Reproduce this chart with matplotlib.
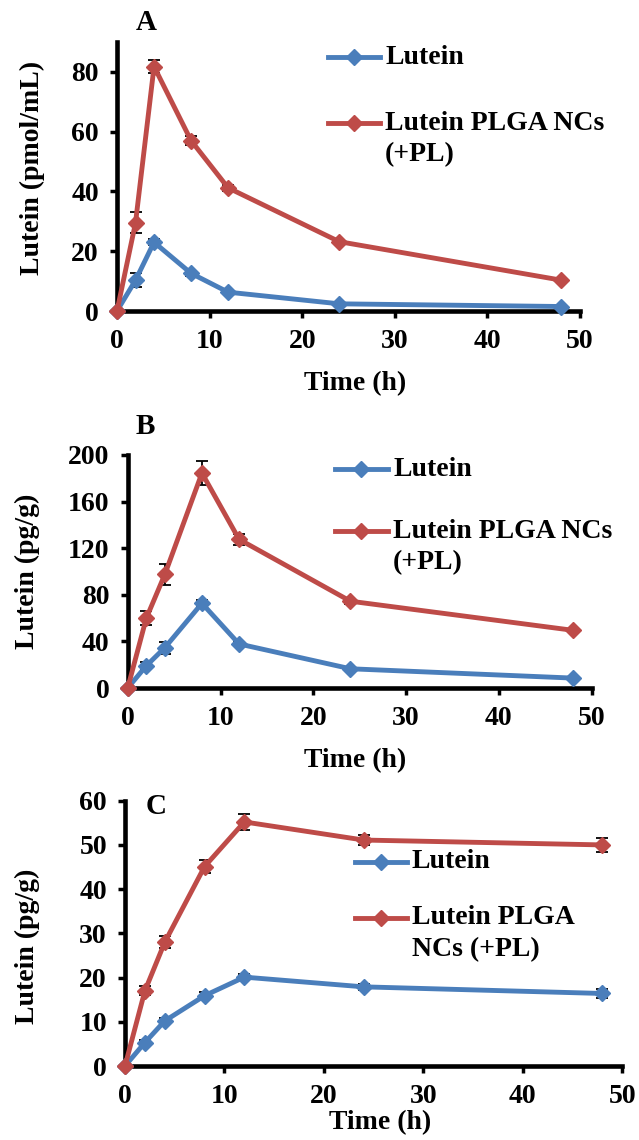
import matplotlib.pyplot as plt
from matplotlib.lines import Line2D

plt.rcParams['font.family'] = 'Liberation Serif'
plt.rcParams['font.weight'] = 'bold'
plt.rcParams['axes.labelweight'] = 'bold'
plt.rcParams['font.size'] = 20

# Sampling times (h)
time = [0, 2, 4, 8, 12, 24, 48]

# Panel A: plasma (pmol/mL)
a_lutein = [0, 10.3, 23, 12.6, 6.3, 2.4, 1.5]
a_lutein_err = [0, 2.3, 1.0, 0.8, 0.5, 0.3, 0.3]
a_nc = [0, 29.5, 81.8, 57, 41.2, 23.2, 10.3]
a_nc_err = [0, 3.5, 2.2, 1.6, 1.0, 0.6, 0.5]

# Panel B: tissue (pg/g)
b_lutein = [0, 19, 34.6, 72.7, 37.8, 16.5, 8.5]
b_lutein_err = [0, 3, 5, 3, 1.5, 1, 0.8]
b_nc = [0, 59.8, 97.5, 184.5, 127.6, 74.5, 49.5]
b_nc_err = [0, 6, 9, 10, 5, 2, 1.5]

# Panel C: tissue (pg/g)
c_lutein = [0, 5.3, 10.2, 15.9, 20.1, 17.9, 16.4]
c_lutein_err = [0, 0.5, 0.6, 0.8, 0.6, 0.6, 1.0]
c_nc = [0, 17, 28, 45.1, 55.2, 51.1, 50]
c_nc_err = [0, 1.0, 1.3, 1.5, 1.8, 1.2, 1.5]

blue = '#4A7EBB'
red = '#BE4B48'

W, H = 639, 1140
fig = plt.figure(figsize=(W / 100, H / 100), dpi=100)


def px_axes(left, right, top, bottom):
    return fig.add_axes([left / W, 1 - bottom / H, (right - left) / W, (bottom - top) / H])


def draw_series(ax, y, err, color):
    ax.errorbar(time, y, yerr=err, color=color, lw=3.5, marker='D', ms=8.5,
                ecolor='black', elinewidth=1.3, capsize=4, capthick=1.3,
                zorder=3, clip_on=False)


def style(ax, ylim, yticks):
    ax.set_xlim(0, 50)
    ax.set_ylim(*ylim)
    ax.set_xticks([0, 10, 20, 30, 40, 50])
    ax.set_yticks(yticks)
    for s in ['top', 'right']:
        ax.spines[s].set_visible(False)
    for s in ['left', 'bottom']:
        ax.spines[s].set_linewidth(3.3)
    ax.tick_params(direction='out', length=5, width=2.5, pad=8)


def legend(x0, x1, ys, labels):
    for y, lab, color in zip(ys, labels, [blue, red]):
        xm = (x0 + x1) / 2
        fig.add_artist(Line2D([x0 / W, xm / W, x1 / W], [1 - y / H] * 3, color=color,
                              lw=3.5, marker='D', ms=8, markevery=[1]))
        for i, line in enumerate(lab):
            fig.text((x1 + 5) / W, 1 - (y + i * 32) / H, line, va='center', ha='left')


# Panel A
axA = px_axes(117, 580, 42, 311)
draw_series(axA, a_lutein, a_lutein_err, blue)
draw_series(axA, a_nc, a_nc_err, red)
style(axA, (0, 90), [0, 20, 40, 60, 80])
axA.set_xlabel('Time (h)')
axA.xaxis.set_label_coords(0.514, -0.225)
axA.set_ylabel('Lutein (pmol/mL)')
axA.yaxis.set_label_coords(-0.155, 0.53)
fig.text(146 / W, 1 - 22 / H, 'A', ha='center', va='center', fontsize=21)
legend(328, 380, [57, 123], [['Lutein'], ['Lutein PLGA NCs', '(+PL)']])

# Panel B
axB = px_axes(127.7, 591.7, 455, 688)
draw_series(axB, b_lutein, b_lutein_err, blue)
draw_series(axB, b_nc, b_nc_err, red)
style(axB, (0, 200), [0, 40, 80, 120, 160, 200])
axB.set_xlabel('Time (h)')
axB.xaxis.set_label_coords(0.49, -0.26)
axB.set_ylabel('Lutein (pg/g)')
axB.yaxis.set_label_coords(-0.19, 0.5)
fig.text(145 / W, 1 - 426 / H, 'B', ha='center', va='center', fontsize=21)
legend(335, 388, [469, 531], [['Lutein'], ['Lutein PLGA NCs', '(+PL)']])

# Panel C
axC = px_axes(125, 622.3, 800.7, 1066)
draw_series(axC, c_lutein, c_lutein_err, blue)
draw_series(axC, c_nc, c_nc_err, red)
style(axC, (0, 60), [0, 10, 20, 30, 40, 50, 60])
axC.set_xlabel('Time (h)', labelpad=0)
axC.xaxis.set_label_coords(0.513, -0.165)
axC.set_ylabel('Lutein (pg/g)')
axC.yaxis.set_label_coords(-0.17, 0.45)
fig.text(156 / W, 1 - 807 / H, 'C', ha='center', va='center', fontsize=21)
legend(355, 407, [862, 918], [['Lutein'], ['Lutein PLGA', 'NCs (+PL)']])

fig.savefig('out.png', dpi=100)
